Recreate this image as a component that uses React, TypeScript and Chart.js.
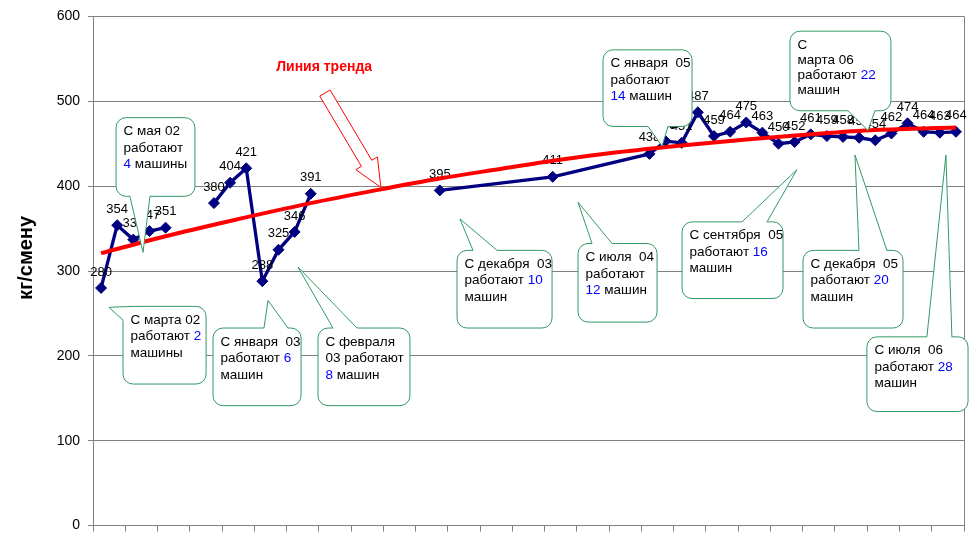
import React, { useEffect, useRef } from 'react';
import { Chart, registerables } from 'chart.js';

Chart.register(...registerables);

const FONT = '"Liberation Sans", Arial, Helvetica, sans-serif';

// Month index 0 = March 2002 ... 53 = August 2006
const monthCount = 54;
const pointMonths = [0, 1, 2, 3, 4, 7, 8, 9, 10, 11, 12, 13, 21, 28, 34, 35, 36, 37, 38, 39, 40, 41, 42, 43, 44, 45, 46, 47, 48, 49, 50, 51, 52, 53];
const pointValues = [280, 354, 337, 347, 351, 380, 404, 421, 288, 325, 346, 391, 395, 411, 438, 453, 451, 487, 459, 464, 475, 463, 450, 452, 461, 459, 458, 457, 454, 462, 474, 464, 463, 464];
const breakAfterMonths = [4, 13];

// Trend line
const trendMonths = [0, 4, 8, 13, 17, 21, 25, 28, 32, 36, 40, 44, 48, 53];
const trendValues = [321, 341, 359, 380, 395, 409, 421, 430, 440, 448, 455, 461, 466, 469];

const yMin = 0;
const yMax = 600;
const yStep = 100;
const yTitle = 'кг/смену';
const trendLabel = 'Линия тренда';

// Callouts: box [monthLeft, monthRight, valueTop, valueBottom]; tail [base1, tip, base2] in (month, value)
const callouts = [
  { lines: ['С мая 02', 'работают', '{4} машины'], box: [0.93, 5.82, 480.7, 388.0], tail: [[1.79, 388.0], [2.6, 322], [3.03, 388.0]] },
  { lines: ['С марта 02', 'работают {2}', 'машины'], box: [1.36, 6.51, 258.3, 166.8], tail: [[1.36, 242.1], [0.49, 257.2], [1.98, 258.3]] },
  { lines: ['С января  03', 'работают {6}', 'машин'], box: [6.94, 12.4, 232.8, 141.3], tail: [[10.1, 232.8], [10.35, 265.3], [11.59, 232.8]] },
  { lines: ['С февраля', '03 работают', '{8} машин'], box: [13.45, 19.15, 232.8, 141.3], tail: [[14.38, 232.8], [12.21, 304.6], [15.87, 232.8]] },
  { lines: ['С декабря  03', 'работают {10}', 'машин'], box: [22.07, 27.96, 324.3, 232.8], tail: [[23.06, 324.3], [22.25, 361.4], [24.55, 324.3]] },
  { lines: ['С июля  04', 'работают', '{12} машин'], box: [29.57, 34.47, 332.4, 239.8], tail: [[30.44, 332.4], [29.57, 381.1], [31.68, 332.4]] },
  { lines: ['С сентября  05', 'работают {16}', 'машин'], box: [36.02, 42.28, 357.9, 267.6], tail: [[39.74, 357.9], [43.14, 419.3], [41.29, 357.9]] },
  { lines: ['С декабря  05', 'работают {20}', 'машин'], box: [43.52, 49.72, 324.3, 232.8], tail: [[46.99, 324.3], [46.74, 436.7], [48.72, 324.3]] },
  { lines: ['С июля  06', 'работают {28}', 'машин'], box: [47.48, 53.75, 222.4, 134.4], tail: [[51.2, 222.4], [52.38, 436.7], [52.75, 222.4]] },
  { lines: ['С января  05', 'работают', '{14} машин'], box: [31.12, 36.64, 560.6, 470.3], tail: [[33.91, 470.3], [34.78, 447.1], [35.15, 470.3]] },
  { lines: ['С', 'марта 06', 'работают {22}', 'машин'], box: [42.71, 48.97, 582.6, 488.8], tail: [[46.31, 488.8], [47.55, 465.7], [47.98, 488.8]], spacing: 15.2 },
];

// Trend label & arrow anchors (month, value)
const trendTextAt = [13.83, 539.8];
const arrowFrom = [13.88, 509.7];
const arrowTo = [17.35, 398.5];

function drawCallout(ctx: CanvasRenderingContext2D, xs: any, ys: any, c: any) {
  const x1 = xs.getPixelForValue(c.box[0]);
  const x2 = xs.getPixelForValue(c.box[1]);
  const y1 = ys.getPixelForValue(c.box[2]);
  const y2 = ys.getPixelForValue(c.box[3]);
  const pts = c.tail.map((p: number[]) => [xs.getPixelForValue(p[0]), ys.getPixelForValue(p[1])]);
  const cx = (x1 + x2) / 2;
  const cy = (y1 + y2) / 2;
  const green = '#339966';
  ctx.save();
  ctx.lineWidth = 1;
  ctx.strokeStyle = green;
  ctx.fillStyle = '#ffffff';
  ctx.beginPath();
  (ctx as any).roundRect(x1, y1, x2 - x1, y2 - y1, 10);
  ctx.fill();
  ctx.stroke();
  ctx.beginPath();
  ctx.moveTo(pts[0][0], pts[0][1]);
  ctx.lineTo(pts[1][0], pts[1][1]);
  ctx.lineTo(pts[2][0], pts[2][1]);
  ctx.lineTo(cx, cy);
  ctx.closePath();
  ctx.fill();
  ctx.beginPath();
  ctx.moveTo(pts[0][0], pts[0][1]);
  ctx.lineTo(pts[1][0], pts[1][1]);
  ctx.lineTo(pts[2][0], pts[2][1]);
  ctx.stroke();
  ctx.font = `13.5px ${FONT}`;
  ctx.textAlign = 'left';
  ctx.textBaseline = 'alphabetic';
  const spacing = c.spacing || 16.5;
  c.lines.forEach((line: string, i: number) => {
    let x = x1 + 7.5;
    const y = y1 + 17.5 + i * spacing;
    const parts = line.split(/(\{[^}]*\})/).filter((s) => s.length > 0);
    parts.forEach((part) => {
      const blue = part.startsWith('{');
      const txt = blue ? part.slice(1, -1) : part;
      ctx.fillStyle = blue ? '#0000ff' : '#000000';
      ctx.fillText(txt, x, y);
      x += ctx.measureText(txt).width;
    });
  });
  ctx.restore();
}

const annotPlugin = {
  id: 'annot',
  beforeDatasetsDraw(chart: any) {
    const { ctx, chartArea } = chart;
    ctx.save();
    ctx.strokeStyle = '#808080';
    ctx.lineWidth = 1;
    ctx.beginPath();
    ctx.moveTo(Math.round(chartArea.right) + 0.5, chartArea.top);
    ctx.lineTo(Math.round(chartArea.right) + 0.5, chartArea.bottom);
    ctx.stroke();
    ctx.restore();
  },
  afterDatasetDraw(chart: any, args: any) {
    if (args.index !== 0) return;
    const ctx = chart.ctx;
    const meta = chart.getDatasetMeta(0);
    const data = chart.data.datasets[0].data;
    ctx.save();
    ctx.font = `13px ${FONT}`;
    ctx.fillStyle = '#000000';
    ctx.textAlign = 'center';
    ctx.textBaseline = 'middle';
    meta.data.forEach((el: any, i: number) => {
      const raw = data[i];
      if (raw.y == null) return;
      ctx.fillText(String(raw.y), el.x, el.y - 16);
    });
    ctx.restore();
  },
  afterDraw(chart: any) {
    const { ctx, chartArea } = chart;
    const xs = chart.scales.x;
    const ys = chart.scales.y;
    ctx.save();
    ctx.font = `bold 20px ${FONT}`;
    ctx.fillStyle = '#000000';
    ctx.textAlign = 'center';
    ctx.textBaseline = 'middle';
    ctx.translate(26, (chartArea.top + chartArea.bottom) / 2 - 13);
    ctx.rotate(-Math.PI / 2);
    ctx.fillText(yTitle, 0, 0);
    ctx.restore();

    ctx.save();
    ctx.font = `bold 14px ${FONT}`;
    ctx.fillStyle = '#ff0000';
    ctx.textAlign = 'center';
    ctx.textBaseline = 'middle';
    ctx.fillText(trendLabel, xs.getPixelForValue(trendTextAt[0]), ys.getPixelForValue(trendTextAt[1]));
    ctx.restore();

    const ax = xs.getPixelForValue(arrowFrom[0]);
    const ay = ys.getPixelForValue(arrowFrom[1]);
    const bx = xs.getPixelForValue(arrowTo[0]);
    const by = ys.getPixelForValue(arrowTo[1]);
    const len = Math.hypot(bx - ax, by - ay);
    const ux = (bx - ax) / len;
    const uy = (by - ay) / len;
    const nx = -uy;
    const ny = ux;
    const sw = 6;
    const hw = 12.5;
    const hl = 28;
    const hx = bx - ux * hl;
    const hy = by - uy * hl;
    ctx.save();
    ctx.beginPath();
    ctx.moveTo(ax + nx * sw, ay + ny * sw);
    ctx.lineTo(hx + nx * sw, hy + ny * sw);
    ctx.lineTo(hx + nx * hw, hy + ny * hw);
    ctx.lineTo(bx, by);
    ctx.lineTo(hx - nx * hw, hy - ny * hw);
    ctx.lineTo(hx - nx * sw, hy - ny * sw);
    ctx.lineTo(ax - nx * sw, ay - ny * sw);
    ctx.closePath();
    ctx.fillStyle = '#ffffff';
    ctx.fill();
    ctx.strokeStyle = '#ff0000';
    ctx.lineWidth = 1;
    ctx.stroke();
    ctx.restore();

    callouts.forEach((c) => drawCallout(ctx, xs, ys, c));
  },
};

export default function App() {
  const canvasRef = useRef<HTMLCanvasElement | null>(null);

  useEffect(() => {
    if (!canvasRef.current) return;
    const lineData: { x: number; y: number | null }[] = [];
    pointMonths.forEach((m, i) => {
      lineData.push({ x: m, y: pointValues[i] });
      if (breakAfterMonths.includes(m)) lineData.push({ x: m + 0.5, y: null });
    });
    const trendData = trendMonths.map((m, i) => ({ x: m, y: trendValues[i] }));
    const tickValues = Array.from({ length: monthCount / 2 + 1 }, (_, k) => -0.5 + 2 * k);

    const chart = new Chart(canvasRef.current, {
      type: 'line',
      data: {
        datasets: [
          {
            data: lineData as any,
            borderColor: '#000080',
            backgroundColor: '#000080',
            borderWidth: 3.3,
            pointStyle: 'rectRot',
            pointRadius: 5.5,
            pointBorderWidth: 1,
            pointBackgroundColor: '#000080',
            pointBorderColor: '#000080',
            spanGaps: false,
            tension: 0,
            order: 2,
          },
          {
            data: trendData as any,
            borderColor: '#ff0000',
            borderWidth: 4,
            pointRadius: 0,
            cubicInterpolationMode: 'monotone',
            order: 1,
          },
        ],
      },
      options: {
        animation: false,
        responsive: false,
        events: [],
        layout: { padding: { left: 0, right: 10, top: 16, bottom: 0 } },
        plugins: { legend: { display: false }, tooltip: { enabled: false } },
        scales: {
          x: {
            type: 'linear',
            min: -0.5,
            max: monthCount - 0.5,
            afterBuildTicks: (scale: any) => {
              scale.ticks = tickValues.map((v) => ({ value: v }));
            },
            afterFit: (scale: any) => {
              scale.height = 8;
            },
            ticks: { display: false },
            grid: { display: true, drawOnChartArea: false, drawTicks: true, tickLength: 6, color: '#808080', lineWidth: 1 },
            border: { display: true, color: '#808080', width: 1 },
          },
          y: {
            type: 'linear',
            min: yMin,
            max: yMax,
            afterFit: (scale: any) => {
              scale.width = 93;
            },
            ticks: { stepSize: yStep, color: '#000000', font: { family: FONT, size: 14 }, padding: 8 },
            grid: { color: '#808080', lineWidth: 1, tickLength: 5, drawTicks: true },
            border: { display: true, color: '#808080', width: 1 },
          },
        },
      },
      plugins: [annotPlugin],
    });
    return () => chart.destroy();
  }, []);

  return (
    <div style={{ position: 'fixed', left: 0, top: 0, width: 974, height: 542, background: '#ffffff' }}>
      <canvas ref={canvasRef} width={974} height={542} />
    </div>
  );
}
